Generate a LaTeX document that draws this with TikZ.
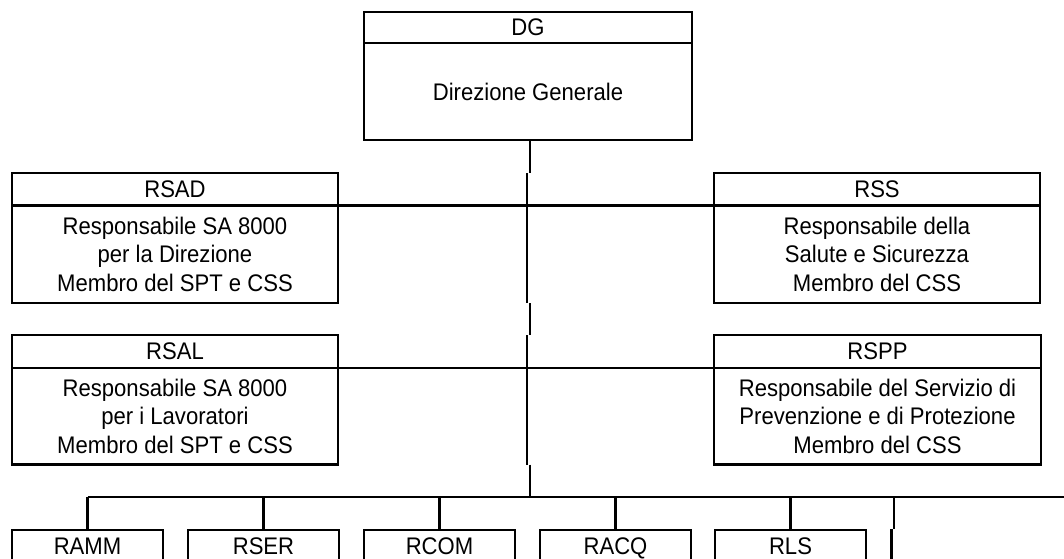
\documentclass[tikz,border=0pt]{standalone}
\usepackage{fontspec}
\setmainfont{Liberation Sans}[FakeStretch=0.92]
\newdimen\pp \pp=0.75pt
\tikzset{
  ln/.style={line width=1.6pt},
  boxbase/.style={draw, line width=1.6pt, inner sep=0pt, outer sep=0pt,
    font=\fontsize{18}{21.6}\selectfont, align=center},
  hdr/.style={boxbase, anchor=north west, text depth=0pt},
  bdy/.style={boxbase, anchor=north},
}
\begin{document}
\begin{tikzpicture}[x=0.75pt, y=-0.75pt]
\useasboundingbox (0,0) rectangle (1064,558);
\clip (0,0) rectangle (1064,558);
% DG
\node[hdr, minimum width=328\pp, minimum height=31\pp] (dgH) at (364,12) {DG};
\node[bdy, minimum width=328\pp, minimum height=97\pp] (dg) at (dgH.south) {Direzione Generale};
% second row
\node[hdr, minimum width=326\pp, minimum height=32.5\pp] (rsadH) at (12,173) {RSAD};
\node[bdy, minimum width=326\pp, minimum height=97.5\pp] (rsad) at (rsadH.south) {Responsabile SA 8000\\per la Direzione\\Membro del SPT e CSS};
\node[hdr, minimum width=326\pp, minimum height=32.5\pp] (rssH) at (714,173) {RSS};
\node[bdy, minimum width=326\pp, minimum height=97.5\pp] (rss) at (rssH.south) {Responsabile della\\Salute e Sicurezza\\Membro del CSS};
% third row
\node[hdr, minimum width=326\pp, minimum height=33\pp] (rsalH) at (12,335) {RSAL};
\node[bdy, minimum width=326\pp, minimum height=96.5\pp] (rsal) at (rsalH.south) {Responsabile SA 8000\\per i Lavoratori\\Membro del SPT e CSS};
\node[hdr, minimum width=327\pp, minimum height=33\pp] (rsppH) at (714,335) {RSPP};
\node[bdy, minimum width=327\pp, minimum height=96.5\pp] (rspp) at (rsppH.south) {Responsabile del Servizio di\\Prevenzione e di Protezione\\Membro del CSS};
% bottom row
\node[hdr, minimum width=151\pp, minimum height=32\pp] (ramm) at (12,530) {RAMM};
\node[hdr, minimum width=151\pp, minimum height=32\pp] (rser) at (188,530) {RSER};
\node[hdr, minimum width=151\pp, minimum height=32\pp] (rcom) at (364,530) {RCOM};
\node[hdr, minimum width=151\pp, minimum height=32\pp] (racq) at (540,530) {RACQ};
\node[hdr, minimum width=151\pp, minimum height=32\pp] (rls) at (715,530) {RLS};
\foreach \b in {ramm,rser,rcom,racq,rls}{
  \draw[ln] (\b.south west) -- ++(0,60);
  \draw[ln] (\b.south east) -- ++(0,60);
}
% trunk
\coordinate (tr1) at (530,0);
\coordinate (tr2) at (526.7,0);
\coordinate (bar) at (0,497);
\coordinate (barR) at (1070,497);
\draw[ln] (tr1 |- dg.south) -- (tr1 |- rsadH.north);
\draw[ln] (tr2 |- rsadH.north) -- (tr2 |- rsad.south);
\draw[ln] (tr1 |- rsad.south) -- (tr1 |- rsalH.north);
\draw[ln] (tr2 |- rsalH.north) -- (tr2 |- rsal.south);
\draw[ln] (tr1 |- rsal.south) -- (tr1 |- bar);
% horizontal links
\draw[ln] (rsad.north east) -- (rss.north west);
\draw[ln] (rsal.north east) -- (rspp.north west);
% bottom bar
\draw[ln] (ramm.north |- bar) -- (barR);
\foreach \b in {ramm,rser,rcom,racq,rls}{
  \draw[ln] (\b.north |- bar) -- (\b.north);
}
% extra line on the right
\coordinate (xa) at (894,497);
\coordinate (xb) at (894,529);
\coordinate (xc) at (891.5,529);
\coordinate (xd) at (891.5,600);
\draw[ln] (xa) -- (xb);
\draw[ln] (xc) -- (xd);
\end{tikzpicture}
\end{document}
